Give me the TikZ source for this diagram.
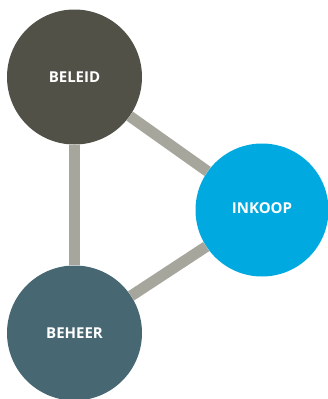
\documentclass[tikz,border=0pt]{standalone}
\usepackage{fontspec}
\setmainfont{Open Sans}
\definecolor{beleidc}{HTML}{525148}
\definecolor{beheerc}{HTML}{476873}
\definecolor{inkoopc}{HTML}{00AAE0}
\definecolor{linkc}{HTML}{A7A69D}
\begin{document}
\begin{tikzpicture}[x=1pt,y=-1pt,
  bubble/.style={circle,minimum size=135pt,inner sep=0pt,text=white,font=\bfseries\fontsize{15}{18}\selectfont},
  link/.style={draw=linkc,line width=11pt}]
\useasboundingbox (0,0) rectangle (327,399);
\node[bubble,fill=beleidc] (beleid) at (74.5,77) {BELEID};
\node[bubble,fill=inkoopc,minimum size=133pt] (inkoop) at (262,210) {\raisebox{4pt}{INKOOP}};
\node[bubble,fill=beheerc] (beheer) at (74.5,333) {BEHEER};
\draw[link] (beleid) -- (inkoop);
\draw[link] (beheer) -- (inkoop);
\draw[link] (beleid) -- (beheer);
\end{tikzpicture}
\end{document}
